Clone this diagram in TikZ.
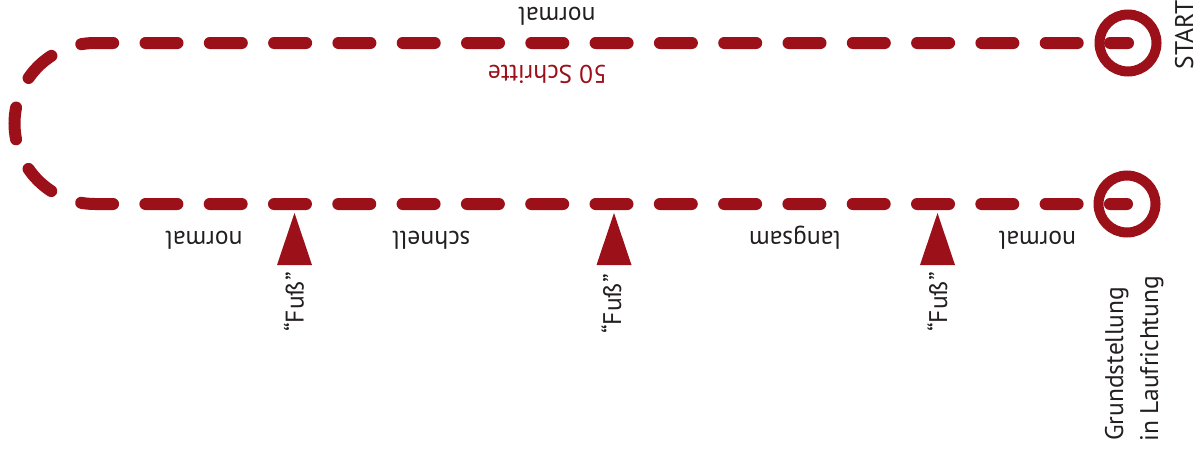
\documentclass[tikz,border=0pt]{standalone}
\usepackage{fontspec}
\setmainfont{PT Sans}
\definecolor{route}{RGB}{156,16,26}
\definecolor{ink}{RGB}{35,31,32}
\begin{document}
\begin{tikzpicture}[x=1pt,y=-1pt,
  lbl/.style={font=\fontsize{25.5}{30}\selectfont, text=ink, inner sep=0pt},
  ring/.style={circle, draw=route, line width=10pt, minimum size=57pt, inner sep=0pt},
  trail/.style={draw=route, line width=12pt, line cap=round, dash pattern=on 32pt off 32.3pt, dash phase=14pt},
  foot/.style={fill=route}]
\useasboundingbox (0,0) rectangle (1198,450);
\node[ring] (start) at (1128,43) {};
\node[ring] (grund) at (1127,204) {};
\draw[trail] (start.center) -- (95,43) arc[start angle=270,end angle=90,radius=80.5] -- (grund.center);
\fill[foot] (294.5,213) -- (277,265) -- (312,265) -- cycle;
\fill[foot] (614,213) -- (596.5,265) -- (631.5,265) -- cycle;
\fill[foot] (937.5,213) -- (920,265) -- (955,265) -- cycle;
\node[lbl, rotate=90, anchor=base] (fuss1) at (303.5,302) {“Fuß”};
\node[lbl, rotate=90, anchor=base] (fuss2) at (621,304) {“Fuß”};
\node[lbl, rotate=90, anchor=base] (fuss3) at (947,302) {“Fuß”};
\node[lbl, rotate=90, anchor=base] (startlbl) at (1193,35) {START};
\node[lbl, rotate=90, anchor=base west] (g1) at (1123,441) {Grundstellung};
\node[lbl, rotate=90, anchor=base west] (g2) at (1158,442) {in Laufrichtung};
\node[lbl, rotate=180, anchor=base] (n0) at (557,7) {normal};
\node[lbl, rotate=180, anchor=base, text=route] (schritte) at (547.5,65) {50 Schritte};
\node[lbl, rotate=180, anchor=base] (n1) at (204,231) {normal};
\node[lbl, rotate=180, anchor=base] (s1) at (431.5,231) {schnell};
\node[lbl, rotate=180, anchor=base] (l1) at (795,231) {langsam};
\node[lbl, rotate=180, anchor=base] (n2) at (1037.5,231) {normal};
\end{tikzpicture}
\end{document}
